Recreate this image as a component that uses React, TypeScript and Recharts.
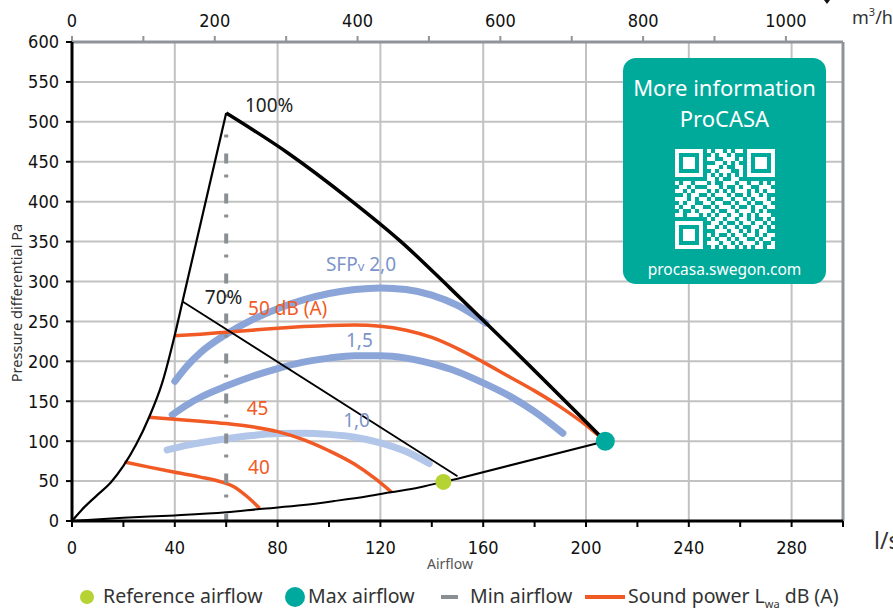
import React from 'react';
import { ComposedChart, Line, XAxis, YAxis, CartesianGrid, ReferenceLine, ReferenceDot } from 'recharts';

// ---------- axis ticks ----------
const xTicks = [0, 20, 40, 60, 80, 100, 120, 140, 160, 180, 200, 220, 240, 260, 280, 300];
const yTicks = [0, 50, 100, 150, 200, 250, 300, 350, 400, 450, 500, 550, 600];
const topTicks = [0, 100, 200, 300, 400, 500, 600, 700, 800, 900, 1000];
const gridX = [40, 80, 120, 160, 200, 240, 280];
const topAxisSpan = [{ m: 0, y: 0 }, { m: 1080, y: 0 }];

// ---------- envelope (l/s, Pa) ----------
const envelopeLeft = [
  { x: 0, y: 0 }, { x: 5, y: 18 }, { x: 10, y: 33 }, { x: 15, y: 48 }, { x: 20, y: 69 },
  { x: 25, y: 96 }, { x: 30, y: 130 }, { x: 35, y: 172 }, { x: 40, y: 233 }, { x: 43, y: 275 },
];
const envelopeRise = [{ x: 43, y: 275 }, { x: 60, y: 511 }];
const line100 = [
  { x: 60, y: 511 }, { x: 84, y: 461 }, { x: 108, y: 403 }, { x: 128, y: 350 },
  { x: 147, y: 292 }, { x: 170, y: 220 }, { x: 207.5, y: 100 },
];
const line70 = [{ x: 43, y: 275 }, { x: 150, y: 56 }];
const envelopeBottom = [
  { x: 0, y: 0 }, { x: 20, y: 4 }, { x: 40, y: 7 }, { x: 60, y: 11 }, { x: 73, y: 15 },
  { x: 90, y: 20 }, { x: 102, y: 25 }, { x: 115, y: 31 }, { x: 124, y: 36 }, { x: 135, y: 42 },
  { x: 144.5, y: 49 },
];
const envelopeBottomEnd = [{ x: 144.5, y: 49 }, { x: 150, y: 53 }, { x: 207.5, y: 100 }];

// ---------- min airflow ----------
const minAirflow = [{ x: 60, y: 484 }, { x: 60, y: 0 }];

// ---------- SFPv curves ----------
const sfp20 = [
  { x: 40, y: 175 }, { x: 45, y: 195 }, { x: 50, y: 211 }, { x: 60, y: 234 }, { x: 70, y: 252 },
  { x: 80, y: 266 }, { x: 90, y: 277 }, { x: 100, y: 285 }, { x: 110, y: 290 }, { x: 120, y: 292 },
  { x: 130, y: 290 }, { x: 140, y: 283 }, { x: 150, y: 270 }, { x: 161, y: 248 },
];
const sfp15 = [
  { x: 39, y: 133 }, { x: 45, y: 146 }, { x: 50, y: 155 }, { x: 60, y: 169 }, { x: 70, y: 181 },
  { x: 80, y: 191 }, { x: 90, y: 199 }, { x: 100, y: 204 }, { x: 110, y: 207 }, { x: 120, y: 207 },
  { x: 130, y: 204 }, { x: 140, y: 197 }, { x: 150, y: 187 }, { x: 160, y: 173 }, { x: 170, y: 157 },
  { x: 180, y: 137 }, { x: 191, y: 110 },
];
const sfp10 = [
  { x: 37, y: 89 }, { x: 45, y: 95 }, { x: 50, y: 98 }, { x: 60, y: 103 }, { x: 70, y: 107 },
  { x: 80, y: 109.5 }, { x: 90, y: 110 }, { x: 100, y: 108.5 }, { x: 110, y: 105 }, { x: 120, y: 98 },
  { x: 130, y: 87 }, { x: 139, y: 72 },
];

// ---------- sound power curves ----------
const db50 = [
  { x: 40, y: 232 }, { x: 50, y: 234 }, { x: 60, y: 236.5 }, { x: 70, y: 239 }, { x: 80, y: 241.5 },
  { x: 90, y: 243.5 }, { x: 100, y: 245 }, { x: 110, y: 245.5 }, { x: 120, y: 244 }, { x: 130, y: 239 },
  { x: 140, y: 230 }, { x: 150, y: 216 }, { x: 160, y: 199 }, { x: 170, y: 181 }, { x: 180, y: 163 },
  { x: 190, y: 143 }, { x: 200, y: 120 }, { x: 207, y: 101 },
];
const db45 = [
  { x: 30, y: 130 }, { x: 40, y: 127.5 }, { x: 50, y: 125 }, { x: 60, y: 122 }, { x: 70, y: 118 },
  { x: 80, y: 112 }, { x: 90, y: 102 }, { x: 100, y: 88 }, { x: 110, y: 71 }, { x: 118, y: 53 },
  { x: 124.4, y: 36 },
];
const db40 = [
  { x: 20.4, y: 74 }, { x: 30, y: 67.5 }, { x: 40, y: 61 }, { x: 50, y: 55 }, { x: 58, y: 49 },
  { x: 63, y: 43 }, { x: 68, y: 31 }, { x: 73, y: 16 },
];

// ---------- points ----------
const referenceAirflow = { x: 144.5, y: 49 };
const maxAirflow = { x: 207.5, y: 100 };

// ---------- annotations (data coordinates of text baseline start) ----------
const annotations = [
  { x: 67.3, y: 512, text: '100%', kind: 'black' },
  { x: 51.7, y: 272, text: '70%', kind: 'black' },
  { x: 68.5, y: 258, text: '50 dB (A)', kind: 'orange' },
  { x: 68, y: 133, text: '45', kind: 'orange' },
  { x: 68.5, y: 59, text: '40', kind: 'orange' },
  { x: 98.8, y: 313, text: 'SFPv 2,0', kind: 'blue' },
  { x: 106.6, y: 218, text: '1,5', kind: 'blue' },
  { x: 105.5, y: 118, text: '1,0', kind: 'blue' },
];

const qrRows = [
  '1111111010110101101111111',
  '1000001001011010001000001',
  '1011101011001110101011101',
  '1011101000110101001011101',
  '1011101011101001101011101',
  '1000001001011100101000001',
  '1111111010101010101111111',
  '0000000011010011000000000',
  '1011011101001110110110101',
  '0110100011101001011001110',
  '1101011101010101110101011',
  '0010110010111010010110100',
  '1110101101001101101011101',
  '0101100110110010110100110',
  '1011011001011101001011011',
  '0100101110100110111010100',
  '1101110101011011010101110',
  '0000000010110110110100101',
  '1111111001101001011011010',
  '1000001011010110100110101',
  '1011101000111011010101100',
  '1011101010100101101101011',
  '1011101001011010110010110',
  '1000001011101101011101001',
  '1111111001010110101011011',
];

const W = 893;
const H = 608;
const ORANGE = '#f15a24';
const BLUE = '#8ca5d8';
const BLUE_LIGHT = '#b2c6ea';
const GRID = '#c2c2c2';
const AXIS_GRAY = '#8f9499';
const TICK_FONT = '"Liberation Sans Narrow", "DejaVu Sans Condensed", sans-serif';
const TEXT_FONT = '"Noto Sans", "Open Sans", sans-serif';

const fmtX = (v: number) => (v % 40 === 0 && v < 300 ? String(v) : '');
const fmtTop = (v: number) => (v % 200 === 0 ? String(v) : '');

const annColor: Record<string, string> = { black: '#222', orange: ORANGE, blue: '#7c94ca' };

const makeAnn = (a: { text: string; kind: string }) => (p: any) => {
  const fill = annColor[a.kind];
  if (a.text.startsWith('SFPv')) {
    return (
      <text x={p.cx} y={p.cy} fill={fill} fontSize={19} fontFamily={TEXT_FONT}>
        SFP<tspan fontSize={13}>v</tspan> 2,0
      </text>
    );
  }
  return (
    <text x={p.cx} y={p.cy} fill={fill} fontSize={19} fontFamily={TEXT_FONT}>
      {a.text}
    </text>
  );
};

const common = { dot: false, activeDot: false, isAnimationActive: false, dataKey: 'y' } as const;

function QR() {
  const s = 4;
  return (
    <svg width={100} height={100} style={{ position: 'absolute', left: 675, top: 149 }}>
      {qrRows.map((row, r) =>
        row.split('').map((c, col) =>
          c === '1' ? <rect key={r + '-' + col} x={col * s} y={r * s} width={s} height={s} fill="#fff" /> : null
        )
      )}
    </svg>
  );
}

const legendText: React.CSSProperties = {
  position: 'absolute', top: 584, fontSize: 19.5, lineHeight: '24px', color: '#333', whiteSpace: 'nowrap',
};

export default function App() {
  return (
    <div style={{ position: 'absolute', left: 0, top: 0, width: W, height: H, background: '#fff', fontFamily: TEXT_FONT, overflow: 'hidden' }}>
      <ComposedChart width={W} height={H} margin={{ top: 12, right: 50, bottom: 47, left: 22 }}>
        <CartesianGrid vertical={false} stroke={GRID} strokeWidth={2} />
        {gridX.map((v) => (
          <ReferenceLine key={v} x={v} stroke={GRID} strokeWidth={2} />
        ))}
        <ReferenceLine x={300} stroke={AXIS_GRAY} strokeWidth={3} />
        <XAxis
          xAxisId={0}
          type="number"
          dataKey="x"
          domain={[0, 300]}
          allowDataOverflow
          ticks={xTicks}
          interval={0}
          tickFormatter={fmtX}
          height={40}
          tickSize={6}
          tickMargin={14}
          axisLine={{ stroke: '#000', strokeWidth: 3 }}
          tickLine={{ stroke: '#000', strokeWidth: 2 }}
          tick={{ fill: '#111', fontSize: 18, fontFamily: TICK_FONT }}
        />
        <XAxis
          xAxisId="top"
          orientation="top"
          type="number"
          dataKey="m"
          domain={[0, 1080]}
          allowDataOverflow
          ticks={topTicks}
          interval={0}
          tickFormatter={fmtTop}
          height={30}
          tickSize={6}
          tickMargin={9}
          axisLine={{ stroke: AXIS_GRAY, strokeWidth: 3 }}
          tickLine={{ stroke: AXIS_GRAY, strokeWidth: 2 }}
          tick={{ fill: '#111', fontSize: 18, fontFamily: TICK_FONT }}
        />
        <YAxis
          type="number"
          domain={[0, 600]}
          allowDataOverflow
          ticks={yTicks}
          interval={0}
          width={50}
          tickSize={6}
          tickMargin={7}
          axisLine={{ stroke: '#000', strokeWidth: 3 }}
          tickLine={{ stroke: '#000', strokeWidth: 2 }}
          tick={{ fill: '#111', fontSize: 18, fontFamily: TICK_FONT }}
        />
        <Line {...common} xAxisId="top" data={topAxisSpan} stroke="none" />

        {/* SFPv curves */}
        <Line {...common} data={sfp20} type="monotone" stroke={BLUE} strokeWidth={7} strokeLinecap="round" />
        <Line {...common} data={sfp15} type="monotone" stroke={BLUE} strokeWidth={7} strokeLinecap="round" />
        <Line {...common} data={sfp10} type="monotone" stroke={BLUE_LIGHT} strokeWidth={7} strokeLinecap="round" />

        {/* sound power curves */}
        <Line {...common} data={db50} type="monotone" stroke={ORANGE} strokeWidth={3.5} />
        <Line {...common} data={db45} type="monotone" stroke={ORANGE} strokeWidth={3.5} />
        <Line {...common} data={db40} type="monotone" stroke={ORANGE} strokeWidth={3.5} />

        {/* envelope */}
        <Line {...common} data={envelopeLeft} type="monotone" stroke="#000" strokeWidth={2.2} />
        <Line {...common} data={envelopeRise} type="linear" stroke="#000" strokeWidth={2.2} />
        <Line {...common} data={line100} type="monotone" stroke="#000" strokeWidth={3.5} strokeLinejoin="round" />
        <Line {...common} data={line70} type="linear" stroke="#000" strokeWidth={1.8} />
        <Line {...common} data={envelopeBottom} type="monotone" stroke="#000" strokeWidth={2} />
        <Line {...common} data={envelopeBottomEnd} type="linear" stroke="#000" strokeWidth={2} />

        {/* min airflow */}
        <Line {...common} data={minAirflow} type="linear" stroke="#8a8f94" strokeWidth={4} strokeDasharray="3 16 10 11" />

        {/* points */}
        <ReferenceDot x={referenceAirflow.x} y={referenceAirflow.y} r={8} fill="#b6d334" stroke="none" />
        <ReferenceDot x={maxAirflow.x} y={maxAirflow.y} r={9.5} fill="#00a99d" stroke="none" />

        {annotations.map((a) => (
          <ReferenceDot key={a.text} x={a.x} y={a.y} r={0} shape={makeAnn(a)} />
        ))}
      </ComposedChart>

      {/* small marker at top edge */}
      <div style={{ position: 'absolute', left: 824, top: 0, width: 0, height: 0, borderLeft: '3px solid transparent', borderRight: '3px solid transparent', borderTop: '4px solid #111' }} />

      {/* axis captions */}
      <div style={{ position: 'absolute', left: 852, top: 6, fontSize: 18, color: '#333', fontFamily: TEXT_FONT, lineHeight: '22px', whiteSpace: 'nowrap' }}>
        m<sup style={{ fontSize: 11, verticalAlign: 'top', lineHeight: '12px' }}>3</sup>/h
      </div>
      <div style={{ position: 'absolute', left: 874, top: 526, fontSize: 23, color: '#333', fontFamily: TEXT_FONT, lineHeight: '28px' }}>l/s</div>
      <div style={{ position: 'absolute', left: 427, top: 556, fontSize: 14, color: '#555', fontFamily: TEXT_FONT, lineHeight: '16px' }}>Airflow</div>
      <div
        style={{
          position: 'absolute', left: 16, top: 303, fontSize: 14.5, color: '#333', fontFamily: TEXT_FONT,
          whiteSpace: 'nowrap', transform: 'translate(-50%, -50%) rotate(-90deg)', lineHeight: '16px',
        }}
      >
        Pressure differential Pa
      </div>

      {/* info box */}
      <div style={{ position: 'absolute', left: 623, top: 58, width: 203, height: 226, borderRadius: 13, background: '#00aa9b' }} />
      <div style={{ position: 'absolute', left: 623, top: 72, width: 203, textAlign: 'center', color: '#fff', fontSize: 22, lineHeight: '31px', fontFamily: TEXT_FONT }}>
        More information<br />ProCASA
      </div>
      <QR />
      <div style={{ position: 'absolute', left: 623, top: 259, width: 203, textAlign: 'center', color: '#fff', fontSize: 15.5, lineHeight: '20px', fontFamily: TEXT_FONT }}>
        procasa.swegon.com
      </div>

      {/* legend */}
      <div style={{ position: 'absolute', left: 80, top: 590, width: 14, height: 14, borderRadius: 7, background: '#b6d334' }} />
      <div style={{ ...legendText, left: 103 }}>Reference airflow</div>
      <div style={{ position: 'absolute', left: 285, top: 587, width: 20, height: 20, borderRadius: 10, background: '#00a99d' }} />
      <div style={{ ...legendText, left: 308 }}>Max airflow</div>
      <div style={{ position: 'absolute', left: 441, top: 595, width: 17, height: 4, background: '#8a8f94' }} />
      <div style={{ ...legendText, left: 470 }}>Min airflow</div>
      <div style={{ position: 'absolute', left: 585, top: 595, width: 40, height: 4, background: ORANGE }} />
      <div style={{ ...legendText, left: 628 }}>
        Sound power L<sub style={{ fontSize: 11, lineHeight: '10px' }}>wa</sub> dB (A)
      </div>
    </div>
  );
}
